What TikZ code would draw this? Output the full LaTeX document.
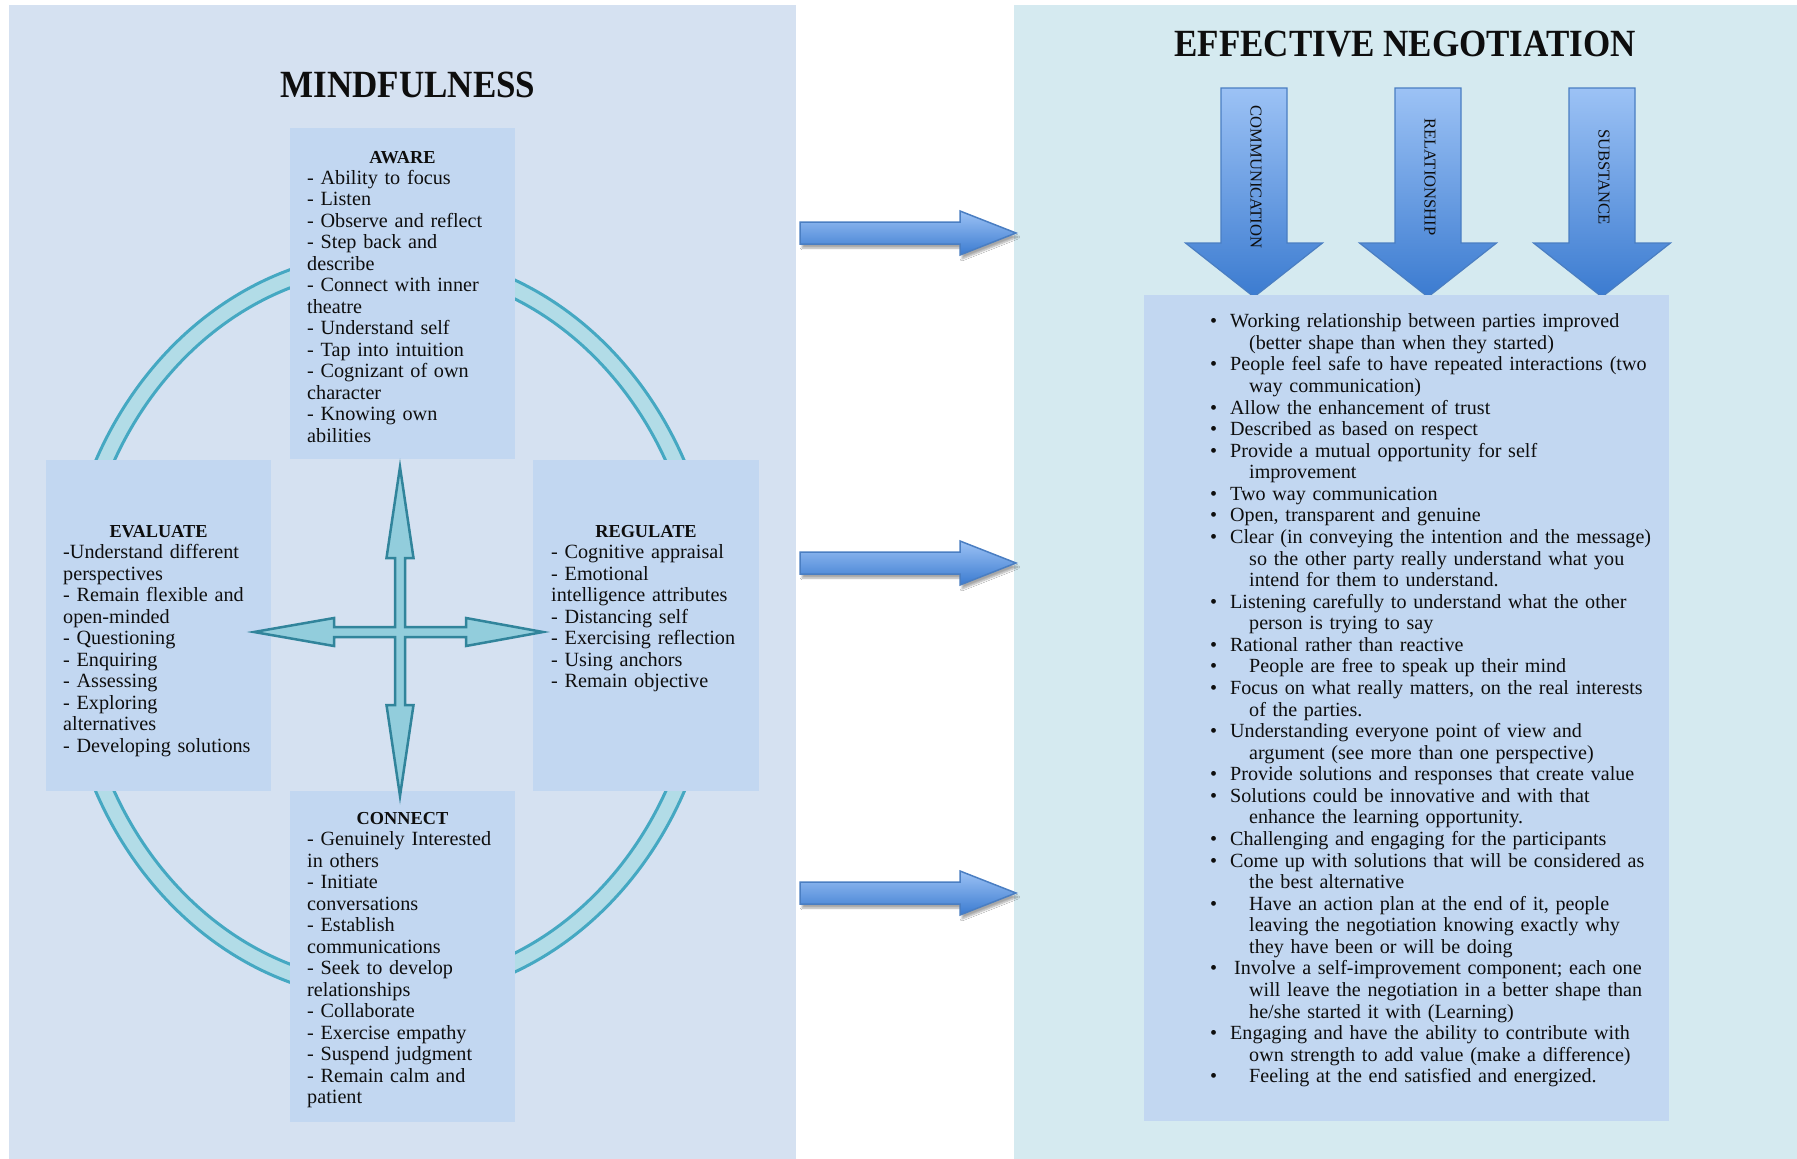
\documentclass[tikz,border=0pt]{standalone}
\usepackage{fontspec}
\setmainfont{Liberation Serif}
\usetikzlibrary{shadows.blur}

\definecolor{mindbg}{HTML}{D5E1F1}
\definecolor{negbg}{HTML}{D5EAF0}
\definecolor{boxbg}{HTML}{C2D7F1}
\definecolor{ringline}{HTML}{45A8C2}
\definecolor{ringfill}{HTML}{B2DCE7}
\definecolor{crossline}{HTML}{31849B}
\definecolor{crossfill}{HTML}{92CDDC}
\definecolor{arrowtop}{HTML}{9CC2F5}
\definecolor{arrowbot}{HTML}{3B7BD0}
\definecolor{arrowline}{HTML}{4A7EC2}
\definecolor{ink}{HTML}{0E0E0E}

\newcommand{\bul}{\makebox[20pt][l]{\textbullet}}
\newcommand{\bulx}{\makebox[39pt][l]{\textbullet}}
\newcommand{\cont}{\hspace*{39pt}}
\newcommand{\tall}[1]{\scalebox{1}[1.1]{#1}}

\begin{document}
\begin{tikzpicture}[x=1pt,y=-1pt,
  panel/.style={inner sep=0pt, outer sep=0pt, anchor=north west},
  itembox/.style={fill=boxbg, inner sep=0pt, outer sep=0pt, anchor=north west,
    minimum width=225pt, minimum height=331pt},
  heading/.style={font=\bfseries\fontsize{35}{40}\selectfont, text=ink, inner sep=0pt},
  boxtitle/.style={font=\bfseries\fontsize{18.3}{21.5}\selectfont, text=ink, inner sep=0pt, anchor=base},
  items/.style={font=\fontsize{20.2}{21.5}\selectfont, text=ink, inner sep=0pt,
    anchor=north west, text width=225pt, align=left},
  bullets/.style={font=\fontsize{20.1}{21.57}\selectfont, text=ink, inner sep=0pt,
    anchor=north west, text width=470pt, align=left},
  pillar/.style={draw=arrowline, line width=1.2pt, top color=arrowtop, bottom color=arrowbot},
  pillartext/.style={rotate=-90, font=\fontsize{16.6}{18}\selectfont, text=ink, inner sep=0pt},
  linkarrow/.style={draw=arrowline, line width=1.5pt, top color=arrowtop, bottom color=arrowbot,
    blur shadow={shadow xshift=2pt, shadow yshift=-4pt, shadow blur steps=6, shadow opacity=35}},
]
\useasboundingbox[fill=white] (0,0) rectangle (1797,1159);

% the two panels
\node[panel, fill=mindbg, minimum width=787pt, minimum height=1154pt] (mind) at (9,5) {};
\node[panel, fill=negbg, minimum width=783pt, minimum height=1154pt] (neg) at (1014,5) {};

% ring behind the four quadrant boxes
\draw[ringline, line width=3pt, fill=ringfill, even odd rule]
  (390,626) ellipse [x radius=328pt, y radius=374pt]
  (390,626) ellipse [x radius=311pt, y radius=357pt];

% quadrant boxes
\node[itembox] (aware) at (290,128) {};
\node[itembox] (evaluate) at (46,460) {};
\node[itembox, minimum width=226pt] (regulate) at (533,460) {};
\node[itembox] (connect) at (290,791) {};

\node[heading] (mtitle) at (408,85) {\tall{MINDFULNESS}};

\node[boxtitle] (awaret) at (402.5,163) {AWARE};
\node[items] (awarel) at (307,169) {\strut- Ability to focus\\
- Listen\\
- Observe and reflect\\
- Step back and\\
describe\\
- Connect with inner\\
theatre\\
- Understand self\\
- Tap into intuition\\
- Cognizant of own\\
character\\
- Knowing own\\
abilities};

\node[boxtitle] (evalt) at (158.5,537) {EVALUATE};
\node[items] (evall) at (63,543.5) {\strut-Understand different\\
perspectives\\
- Remain flexible and\\
open-minded\\
- Questioning\\
- Enquiring\\
- Assessing\\
- Exploring\\
alternatives\\
- Developing solutions};

\node[boxtitle] (regt) at (646,537) {REGULATE};
\node[items] (regl) at (551,543.5) {\strut- Cognitive appraisal\\
- Emotional\\
intelligence attributes\\
- Distancing self\\
- Exercising reflection\\
- Using anchors\\
- Remain objective};

\node[boxtitle] (cont) at (402.5,824) {CONNECT};
\node[items] (conl) at (307,830.5) {\strut- Genuinely Interested\\
in others\\
- Initiate\\
conversations\\
- Establish\\
communications\\
- Seek to develop\\
relationships\\
- Collaborate\\
- Exercise empathy\\
- Suspend judgment\\
- Remain calm and\\
patient};

% four-way arrow in the middle
\draw[crossline, fill=crossfill, line width=2.5pt, line join=miter]
  (400,467) -- (413.5,558) -- (405,558) -- (405,627) -- (466,627) -- (466,618)
  -- (543,632) -- (466,646) -- (466,637) -- (405,637) -- (405,705) -- (413.5,705)
  -- (400,796) -- (386.5,705) -- (395,705) -- (395,637) -- (334,637) -- (334,646)
  -- (254,632) -- (334,618) -- (334,627) -- (395,627) -- (395,558) -- (386.5,558)
  -- cycle;

% arrows linking the two panels
\foreach \y in {233,563,893}{
  \draw[linkarrow]
    (800,\y-11) -- (960,\y-11) -- (960,\y-22) -- (1016,\y) -- (960,\y+22)
    -- (960,\y+11) -- (800,\y+11) -- cycle;
}

\node[heading] (ntitle) at (1405,44) {\tall{EFFECTIVE NEGOTIATION}};

% three pillars
\foreach \c in {1254,1428,1602}{
  \draw[pillar]
    (\c-33,88) -- (\c+33,88) -- (\c+33,243) -- (\c+68.5,243) -- (\c,297)
    -- (\c-68.5,243) -- (\c-33,243) -- cycle;
}
\node[pillartext] (comm) at (1256,177) {COMMUNICATION};
\node[pillartext] (rel) at (1430,177) {RELATIONSHIP};
\node[pillartext] (subst) at (1604,177) {SUBSTANCE};

% outcome list
\node[panel, fill=boxbg, minimum width=525pt, minimum height=826pt] (outcomes) at (1144,295) {};
\node[bullets] (outl) at (1210,312.5) {\strut\bul Working relationship between parties improved\\
\cont (better shape than when they started)\\
\bul People feel safe to have repeated interactions (two\\
\cont way communication)\\
\bul Allow the enhancement of trust\\
\bul Described as based on respect\\
\bul Provide a mutual opportunity for self\\
\cont improvement\\
\bul Two way communication\\
\bul Open, transparent and genuine\\
\bul Clear (in conveying the intention and the message)\\
\cont so the other party really understand what you\\
\cont intend for them to understand.\\
\bul Listening carefully to understand what the other\\
\cont person is trying to say\\
\bul Rational rather than reactive\\
\bulx People are free to speak up their mind\\
\bul Focus on what really matters, on the real interests\\
\cont of the parties.\\
\bul Understanding everyone point of view and\\
\cont argument (see more than one perspective)\\
\bul Provide solutions and responses that create value\\
\bul Solutions could be innovative and with that\\
\cont enhance the learning opportunity.\\
\bul Challenging and engaging for the participants\\
\bul Come up with solutions that will be considered as\\
\cont the best alternative\\
\bulx Have an action plan at the end of it, people\\
\cont leaving the negotiation knowing exactly why\\
\cont they have been or will be doing\\
\makebox[24pt][l]{\textbullet}Involve a self-improvement component; each one\\
\cont will leave the negotiation in a better shape than\\
\cont he/she started it with (Learning)\\
\bul Engaging and have the ability to contribute with\\
\cont own strength to add value (make a difference)\\
\bulx Feeling at the end satisfied and energized.};
\end{tikzpicture}
\end{document}
